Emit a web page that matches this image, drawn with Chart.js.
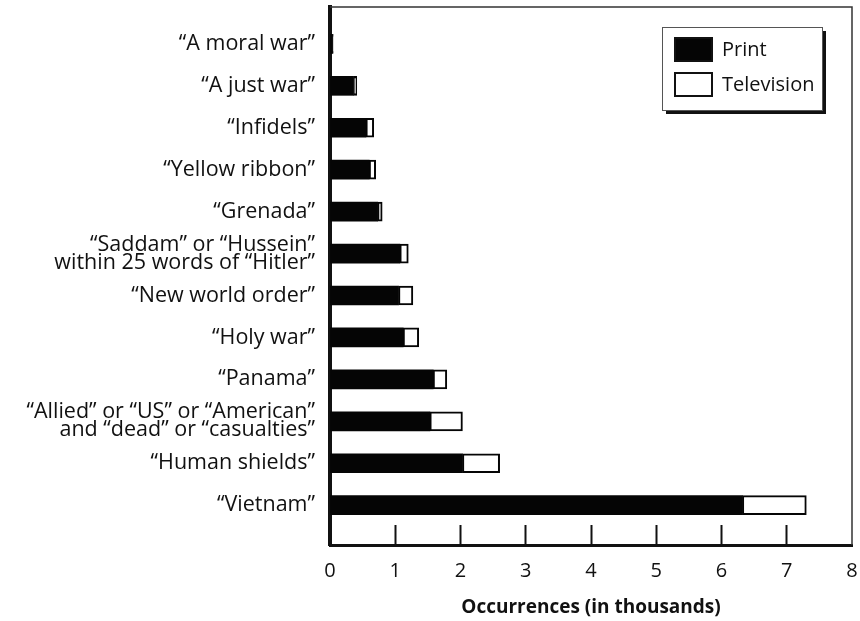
<!DOCTYPE html>
<html>
<head>
<meta charset="utf-8">
<script src="https://cdn.jsdelivr.net/npm/chart.js@4/dist/chart.umd.min.js"></script>
<style>
  html, body { margin: 0; padding: 0; background: #fff; }
  #wrap { width: 860px; height: 621px; }
</style>
</head>
<body>
<div id="wrap"><canvas id="chart" width="860" height="621"></canvas></div>
<script>
// Phrases, top to bottom as in the figure
const categories = [
  '\u201CA moral war\u201D',
  '\u201CA just war\u201D',
  '\u201CInfidels\u201D',
  '\u201CYellow ribbon\u201D',
  '\u201CGrenada\u201D',
  ['\u201CSaddam\u201D or \u201CHussein\u201D', 'within 25 words of \u201CHitler\u201D'],
  '\u201CNew world order\u201D',
  '\u201CHoly war\u201D',
  '\u201CPanama\u201D',
  ['\u201CAllied\u201D or \u201CUS\u201D or \u201CAmerican\u201D', 'and \u201Cdead\u201D or \u201Ccasualties\u201D'],
  '\u201CHuman shields\u201D',
  '\u201CVietnam\u201D'
];

// occurrences, thousands
const printValues = [0.04, 0.36, 0.55, 0.60, 0.73, 1.07, 1.05, 1.12, 1.58, 1.53, 2.03, 6.32];
const tvValues    = [0.01, 0.05, 0.12, 0.10, 0.07, 0.13, 0.22, 0.24, 0.21, 0.50, 0.57, 0.98];

const xTicks = [0, 1, 2, 3, 4, 5, 6, 7, 8];

const FONT = '"Open Sans", "Noto Sans", sans-serif';

// top/right frame lines plus the boxed legend with its drop shadow
const framePlugin = {
  id: 'frame',
  afterDraw(chart) {
    const ctx = chart.ctx;
    const a = chart.chartArea;
    ctx.save();
    ctx.strokeStyle = '#333';
    ctx.lineWidth = 1.5;
    ctx.beginPath();
    ctx.moveTo(a.left, a.top);
    ctx.lineTo(a.right, a.top);
    ctx.lineTo(a.right, a.bottom);
    ctx.stroke();

    // legend
    const bx = a.right - 190, by = a.top + 20, bw = 160, bh = 83;
    ctx.fillStyle = '#111';
    ctx.fillRect(bx + 4, by + 4, bw, bh);
    ctx.fillStyle = '#fff';
    ctx.fillRect(bx, by, bw, bh);
    ctx.strokeStyle = '#555';
    ctx.lineWidth = 1;
    ctx.strokeRect(bx + 0.5, by + 0.5, bw, bh);

    ctx.font = '20px ' + FONT;
    ctx.textBaseline = 'middle';
    chart.data.datasets.forEach(function (ds, i) {
      const sy = by + 10 + i * 35;
      ctx.fillStyle = ds.backgroundColor;
      ctx.fillRect(bx + 12, sy, 39, 25);
      ctx.strokeStyle = '#111';
      ctx.lineWidth = 2;
      ctx.strokeRect(bx + 13, sy + 1, 37, 23);
      ctx.fillStyle = '#111';
      ctx.fillText(ds.label, bx + 60, sy + 13);
    });
    ctx.restore();
  }
};

const ctx = document.getElementById('chart').getContext('2d');
const chart = new Chart(ctx, {
  type: 'bar',
  data: {
    datasets: [{
      label: 'Print',
      data: categories.map(function (c, i) { return { x: printValues[i], y: i }; }),
      backgroundColor: '#050505',
      borderColor: '#050505',
      borderWidth: 0,
      barThickness: 19
    }, {
      label: 'Television',
      data: categories.map(function (c, i) { return { x: tvValues[i], y: i }; }),
      backgroundColor: '#ffffff',
      borderColor: '#050505',
      borderWidth: 2,
      borderSkipped: false,
      barThickness: 19
    }]
  },
  options: {
    indexAxis: 'y',
    responsive: false,
    animation: false,
    devicePixelRatio: 1,
    layout: { padding: { top: 7, right: 8, left: 0, bottom: 0 } },
    plugins: {
      legend: { display: false },
      tooltip: { enabled: false }
    },
    scales: {
      x: {
        type: 'linear',
        stacked: true,
        min: 0,
        max: 8,
        afterBuildTicks: function (scale) {
          scale.ticks = xTicks.map(function (v) { return { value: v }; });
        },
        afterFit: function (scale) {
          scale.height = 76;
          scale.paddingLeft = 0;
          scale.paddingRight = 0;
        },
        grid: {
          drawOnChartArea: false,
          drawTicks: true,
          tickLength: -20,
          tickWidth: 2,
          tickColor: function (c) {
            return (c.tick && (c.tick.value === 0 || c.tick.value === 8)) ? 'rgba(0,0,0,0)' : '#111';
          }
        },
        border: { display: true, color: '#111', width: 3 },
        ticks: {
          padding: 34,
          color: '#111',
          font: { family: FONT, size: 20 }
        },
        title: {
          display: true,
          text: 'Occurrences (in thousands)',
          color: '#111',
          font: { family: FONT, size: 19, weight: 'bold' },
          padding: { top: 0, bottom: 2 }
        }
      },
      y: {
        type: 'linear',
        stacked: true,
        reverse: true,
        offset: false,
        min: -0.88,
        max: 11.95,
        afterFit: function (scale) {
          scale.width = 330;
          scale.paddingTop = 0;
          scale.paddingBottom = 0;
        },
        grid: { display: false, drawTicks: false, offset: false },
        border: { display: true, color: '#111', width: 4 },
        ticks: {
          stepSize: 1,
          includeBounds: false,
          autoSkip: false,
          maxTicksLimit: 20,
          padding: 15,
          color: '#111',
          font: { family: FONT, size: 21.5, lineHeight: '18px' },
          callback: function (v) {
            return Number.isInteger(v) ? categories[v] : '';
          }
        }
      }
    }
  },
  plugins: [framePlugin]
});
</script>
</body>
</html>
